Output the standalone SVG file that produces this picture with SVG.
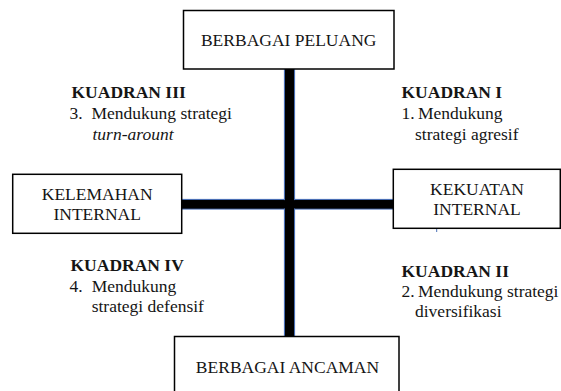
<svg xmlns="http://www.w3.org/2000/svg" width="561" height="391" viewBox="0 0 561 391">
<style>
.box{fill:#fff;stroke:#000;stroke-width:1.5}
.t{font-family:"Liberation Serif","Times New Roman",serif;font-size:17.5px;fill:#151515}
.c{text-anchor:middle}
.b{font-weight:bold}
.i{font-style:italic}
.bar{fill:#000;stroke:#4a6fb5;stroke-width:1.2}
.core{fill:#000}
</style>
<rect width="561" height="391" fill="#fff"/>
<g id="connectors">
<rect class="bar" x="181" y="199.5" width="213" height="9.5"/>
<rect class="bar" x="284.5" y="68" width="10" height="269"/>
<rect class="core" x="182" y="200.1" width="211" height="8.3"/>
<rect class="core" x="285.1" y="69" width="8.8" height="267"/>
<line x1="436.7" y1="228" x2="436.7" y2="232" stroke="#4a6fb5" stroke-width="1"/>
</g>
<g id="peluang">
<rect class="box" x="183.5" y="10.5" width="210.5" height="58.5"/>
<text class="t c" x="288.7" y="46">BERBAGAI PELUANG</text>
</g>
<g id="kelemahan">
<rect class="box" x="12.7" y="174.3" width="169" height="59"/>
<text class="t c" x="97.2" y="200">KELEMAHAN</text>
<text class="t c" x="97.2" y="220">INTERNAL</text>
</g>
<g id="kekuatan">
<rect class="box" x="393.3" y="169.3" width="167" height="59"/>
<text class="t c" x="477" y="195">KEKUATAN</text>
<text class="t c" x="477" y="215">INTERNAL</text>
</g>
<g id="ancaman">
<rect class="box" x="174.5" y="336.5" width="224.5" height="60"/>
<text class="t c" x="287.5" y="373">BERBAGAI ANCAMAN</text>
</g>
<g id="kuadran3">
<text class="t b" x="71.5" y="97.5">KUADRAN III</text>
<text class="t" x="69.5" y="118.5">3.</text>
<text class="t" x="91.5" y="118.5">Mendukung strategi</text>
<text class="t i" x="92.5" y="139.5">turn-arount</text>
</g>
<g id="kuadran1">
<text class="t b" x="401.5" y="97.5">KUADRAN I</text>
<text class="t" x="401.5" y="118.5">1.</text>
<text class="t" x="418" y="118.5">Mendukung</text>
<text class="t" x="415" y="139.5">strategi agresif</text>
</g>
<g id="kuadran4">
<text class="t b" x="70.5" y="271">KUADRAN IV</text>
<text class="t" x="69.5" y="291.5">4.</text>
<text class="t" x="91.7" y="291.5">Mendukung</text>
<text class="t" x="91.7" y="312">strategi defensif</text>
</g>
<g id="kuadran2">
<text class="t b" x="401.5" y="277">KUADRAN II</text>
<text class="t" x="401.5" y="297">2.</text>
<text class="t" x="418" y="297">Mendukung strategi</text>
<text class="t" x="415" y="317">diversifikasi</text>
</g>
</svg>
